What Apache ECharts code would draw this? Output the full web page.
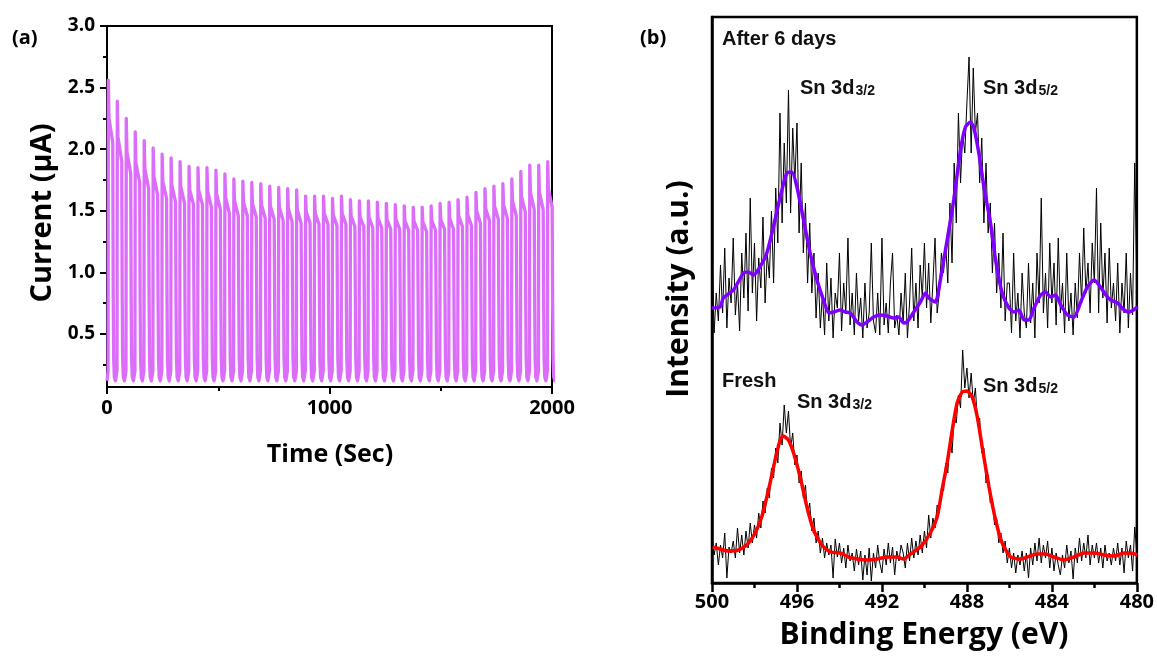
<!DOCTYPE html>
<html><head><meta charset="utf-8">
<script src="https://cdn.jsdelivr.net/npm/echarts@6/dist/echarts.min.js"></script>
<style>html,body{margin:0;padding:0;background:#fff}#c{width:1157px;height:657px}</style>
</head><body><div id="c"></div>
<script>
// ---------- Panel (a): pulsed photocurrent ----------
const timeTicks = [0, 1000, 2000];
const currentTicks = [0.5, 1.0, 1.5, 2.0, 2.5, 3.0];
const currentMinorTicks = [0.25, 0.75, 1.25, 1.75, 2.25, 2.75];
// peak current of each light-on pulse (µA)
const pulsePeaks = [2.56, 2.39, 2.25, 2.14, 2.07, 2.01, 1.96, 1.93, 1.90, 1.86,
  1.85, 1.85, 1.83, 1.80, 1.76, 1.74, 1.73, 1.72, 1.70, 1.69,
  1.68, 1.67, 1.62, 1.62, 1.62, 1.60, 1.62, 1.59, 1.58, 1.58,
  1.57, 1.56, 1.55, 1.54, 1.53, 1.53, 1.54, 1.56, 1.57, 1.59,
  1.61, 1.65, 1.68, 1.70, 1.72, 1.76, 1.82, 1.87, 1.87, 1.90];
// current shortly after the spike
const pulseMids = [2.25, 2.10, 1.98, 1.89, 1.84, 1.78, 1.74, 1.71, 1.70, 1.67,
  1.67, 1.66, 1.64, 1.61, 1.58, 1.57, 1.56, 1.55, 1.54, 1.53,
  1.52, 1.51, 1.49, 1.48, 1.48, 1.47, 1.48, 1.46, 1.45, 1.45,
  1.44, 1.43, 1.43, 1.42, 1.42, 1.41, 1.42, 1.43, 1.44, 1.46,
  1.47, 1.50, 1.52, 1.54, 1.55, 1.58, 1.62, 1.65, 1.65, 1.68];
// current at the end of the light-on period
const pulseShoulders = [2.05, 1.90, 1.80, 1.73, 1.68, 1.63, 1.60, 1.57, 1.56, 1.55,
  1.55, 1.53, 1.51, 1.48, 1.46, 1.46, 1.45, 1.44, 1.43, 1.42,
  1.41, 1.40, 1.40, 1.39, 1.39, 1.38, 1.39, 1.37, 1.37, 1.36,
  1.36, 1.35, 1.35, 1.34, 1.34, 1.33, 1.34, 1.35, 1.35, 1.37,
  1.38, 1.40, 1.42, 1.43, 1.44, 1.46, 1.49, 1.51, 1.51, 1.53];
// dark-current levels during light-off
const offLevels = [0.8, 0.3, 0.15, 0.12, 0.13, 0.2];

// ---------- Panel (b): XPS Sn 3d ----------
const energyTicks = [500, 496, 492, 488, 484, 480];
// raw spectra, 500.0 -> 480.0 eV in 0.1 eV steps
const agedRaw = [
 330,250,290,262,318,270,335,255,305,280,
 345,268,300,252,330,285,350,272,385,290,
 340,262,325,295,366,280,330,305,372,300,
 395,340,470,360,440,380,493,370,455,400,
 460,350,420,330,380,300,360,290,330,265,
 310,255,290,248,320,262,305,245,290,275,
 330,252,300,270,345,258,290,248,310,262,
 285,245,300,255,270,340,262,250,290,248,
 345,258,280,250,300,330,255,268,248,290,
 260,310,245,280,335,262,300,255,318,285,
 340,275,320,260,300,345,270,290,330,310,
 340,300,380,320,420,360,470,400,450,430,
 480,526,430,515,450,470,400,445,360,420,
 350,380,310,360,290,330,275,350,262,300,
 300,250,330,262,290,245,310,270,255,320,
 260,300,245,330,280,385,270,310,255,340,
 280,320,258,345,270,300,250,330,262,290,
 248,300,265,330,280,355,290,320,270,340,
 300,395,270,360,285,330,260,335,275,300,
 262,320,250,300,270,330,255,310,268,420,
 300];
const freshRaw = [
 45,28,40,18,38,25,50,5,36,30,
 42,25,55,30,48,28,52,35,60,40,
 58,45,70,55,82,70,95,85,115,105,
 135,120,160,138,178,150,172,135,150,118,
 128,100,112,85,98,68,80,52,65,40,
 52,30,45,25,40,28,38,5,44,26,
 40,20,35,15,38,22,30,12,34,18,
 32,3,28,8,35,2,30,15,38,20,
 10,34,18,40,20,36,8,32,22,38,
 30,15,40,22,45,25,42,28,48,30,
 52,35,68,45,65,55,78,70,95,92,
 120,110,145,130,165,160,188,175,233,195,
 215,185,210,180,195,160,165,130,135,100,
 108,80,85,58,65,40,50,30,42,20,
 35,15,30,10,28,18,32,12,30,5,
 35,18,40,22,45,20,38,25,42,15,
 35,12,30,18,8,28,15,38,20,32,
 4,35,20,45,22,40,25,48,18,38,
 25,40,20,35,15,38,22,30,18,35,
 22,40,18,35,10,42,25,38,12,56,
 30];
// smoothed fits [eV, intensity]
const agedFitE = [500.0,499.62,499.47,498.99,498.52,498.29,498.05,497.74,497.42,497.11,496.79,496.48,496.24,496.0,495.69,495.38,495.06,494.75,494.51,494.28,493.96,493.73,493.49,493.17,492.94,492.7,492.39,492.08,491.76,491.45,491.21,490.98,490.82,490.5,490.19,489.95,489.8,489.48,489.25,488.93,488.62,488.3,488.07,487.83,487.67,487.44,487.2,486.89,486.65,486.34,486.02,485.79,485.55,485.31,485.08,484.84,484.53,484.29,484.06,483.82,483.58,483.27,482.96,482.64,482.33,482.01,481.78,481.46,481.23,480.91,480.6,480.36,479.97];
const agedFitI = [275,276,285,293,310,311,308,316,330,356,386,410,411,396,363,330,303,283,270,271,273,271,270,261,258,261,266,268,267,265,266,260,261,271,281,290,285,281,303,343,383,433,456,461,455,430,396,360,323,290,275,271,273,263,263,275,288,291,286,288,278,268,266,281,296,303,298,288,283,280,273,271,276];
const freshFitE = [499.97,499.62,499.23,498.76,498.36,497.97,497.66,497.34,497.03,496.79,496.64,496.4,496.16,495.85,495.53,495.22,494.83,494.43,493.96,493.57,493.17,492.7,492.23,491.76,491.29,490.98,490.66,490.19,489.72,489.4,489.17,488.93,488.69,488.46,488.22,487.99,487.75,487.51,487.28,486.96,486.65,486.34,485.94,485.47,485.16,484.69,484.29,483.9,483.43,482.96,482.48,482.01,481.54,481.07,480.6,480.28,479.97];
const freshFitI = [36,34,32,33,38,50,66,93,123,143,147,143,130,106,76,53,38,31,30,26,24,23,24,26,26,24,29,36,50,66,93,120,153,180,191,192,186,166,136,96,63,40,26,24,26,29,29,26,23,26,30,30,28,27,30,30,28];

// ---------- build series data ----------
const period = 40.3, firstPeak = 6;
const offTimes = [22, 24, 27, 32, 37, 39];
const pulseData = [[0, 0.12], [firstPeak - 1.2, 0.2]];
pulsePeaks.forEach((p, k) => {
  const tp = firstPeak + period * k;
  pulseData.push([tp, p], [tp + 3, pulseMids[k]], [tp + 20, pulseShoulders[k]]);
  offTimes.forEach((dt, j) => pulseData.push([tp + dt, offLevels[j]]));
});
const energyGrid = agedRaw.map((_, i) => +(500 - 0.1 * i).toFixed(1));
const agedData = agedRaw.map((v, i) => [energyGrid[i], v]);
const freshData = freshRaw.map((v, i) => [energyGrid[i], v]);
const agedFit = agedFitE.map((e, i) => [e, agedFitI[i]]);
const freshFit = freshFitE.map((e, i) => [e, freshFitI[i]]);

const AX = 'Open Sans', TX = 'Liberation Sans';
const chart = echarts.init(document.getElementById('c'), null, {renderer: 'canvas'});
const sub = (m, s) => ({
  text: '{a|' + m + '}{b|' + s + '}',
  rich: {
    a: {fontFamily: TX, fontWeight: 'bold', fontSize: 20, lineHeight: 20, verticalAlign: 'top', fill: '#111'},
    b: {fontFamily: TX, fontWeight: 'bold', fontSize: 14, lineHeight: 14, padding: [10, 0, 0, 1], verticalAlign: 'bottom', fill: '#111'}
  }
});
chart.setOption({
  animation: false,
  backgroundColor: '#fff',
  grid: [
    {left: 107, top: 26, width: 445, height: 361, show: true, borderColor: '#000', borderWidth: 2, backgroundColor: 'transparent'},
    {left: 712, top: 17, width: 425, height: 566, show: true, borderColor: '#000', borderWidth: 2.5, backgroundColor: 'transparent'}
  ],
  xAxis: [
    {type: 'value', gridIndex: 0, min: timeTicks[0], max: timeTicks[2], interval: 1000,
     axisLine: {onZero: false, lineStyle: {color: '#000', width: 2}},
     axisTick: {length: 7, lineStyle: {color: '#000', width: 2}},
     minorTick: {show: true, splitNumber: 2, length: 4, lineStyle: {color: '#000', width: 2}},
     axisLabel: {margin: 11, fontFamily: AX, fontWeight: 'bold', fontSize: 20, color: '#000',
       formatter: v => String(v)},
     splitLine: {show: false}},
    {type: 'value', gridIndex: 1, min: 480, max: 500, interval: 4, inverse: true,
     axisLine: {onZero: false, lineStyle: {color: '#000', width: 2.5}},
     axisTick: {length: 9, lineStyle: {color: '#000', width: 2.5}},
     minorTick: {show: true, splitNumber: 2, length: 5, lineStyle: {color: '#000', width: 2.5}},
     axisLabel: {margin: 9, fontFamily: AX, fontWeight: 'bold', fontSize: 20, color: '#000',
       customValues: energyTicks, formatter: v => String(v)},
     splitLine: {show: false}}
  ],
  yAxis: [
    {type: 'value', gridIndex: 0, position: 'left', min: 0.07, max: 3.0,
     axisLine: {show: true, onZero: false, lineStyle: {color: '#000', width: 2}},
     axisTick: {show: true, length: 7, customValues: currentTicks, lineStyle: {color: '#000', width: 2}},
     axisLabel: {margin: 12, fontFamily: AX, fontWeight: 'bold', fontSize: 19, color: '#000',
       customValues: currentTicks, formatter: v => v.toFixed(1)},
     splitLine: {show: false}},
    {type: 'value', gridIndex: 0, position: 'left', offset: 0, min: 0.07, max: 3.0,
     axisLine: {show: false, onZero: false},
     axisTick: {show: true, length: 4, customValues: currentMinorTicks, lineStyle: {color: '#000', width: 2}},
     axisLabel: {show: false}, splitLine: {show: false}},
    {type: 'value', gridIndex: 1, position: 'left', min: 0, max: 566,
     axisLine: {show: true, onZero: false, lineStyle: {color: '#000', width: 2.5}},
     axisTick: {show: false}, axisLabel: {show: false}, splitLine: {show: false}}
  ],
  series: [
    {type: 'line', xAxisIndex: 0, yAxisIndex: 0, data: pulseData, showSymbol: false, silent: true,
     lineStyle: {color: '#DB6DFA', width: 3.3, join: 'round'}},
    {type: 'line', xAxisIndex: 1, yAxisIndex: 2, data: agedData, showSymbol: false, silent: true,
     lineStyle: {color: '#000', width: 1}},
    {type: 'line', xAxisIndex: 1, yAxisIndex: 2, data: freshData, showSymbol: false, silent: true,
     lineStyle: {color: '#000', width: 1}},
    {type: 'line', xAxisIndex: 1, yAxisIndex: 2, data: agedFit, showSymbol: false, silent: true, smooth: 0.2, z: 5,
     lineStyle: {color: '#7F00FF', width: 3.5}},
    {type: 'line', xAxisIndex: 1, yAxisIndex: 2, data: freshFit, showSymbol: false, silent: true, smooth: 0.2, z: 5,
     lineStyle: {color: '#FF0000', width: 3.5}}
  ],
  graphic: [
    {type: 'text', x: 12, y: 28, style: {text: '(a)', fontFamily: AX, fontWeight: 'bold', fontSize: 20, fill: '#000'}},
    {type: 'text', x: 43, y: 213, rotation: Math.PI / 2,
     style: {text: 'Current (μA)', align: 'center', verticalAlign: 'middle', fontFamily: AX, fontWeight: 'bold', fontSize: 29, fill: '#000'}},
    {type: 'text', x: 330, y: 455,
     style: {text: 'Time (Sec)', align: 'center', verticalAlign: 'middle', fontFamily: AX, fontWeight: 'bold', fontSize: 25, fill: '#000'}},
    {type: 'text', x: 640, y: 28, style: {text: '(b)', fontFamily: AX, fontWeight: 'bold', fontSize: 20, fill: '#000'}},
    {type: 'text', x: 679, y: 289, rotation: Math.PI / 2,
     style: {text: 'Intensity (a.u.)', align: 'center', verticalAlign: 'middle', fontFamily: AX, fontWeight: 'bold', fontSize: 30, fill: '#000'}},
    {type: 'text', x: 924, y: 620,
     style: {text: 'Binding Energy (eV)', align: 'center', verticalAlign: 'top', fontFamily: AX, fontWeight: 'bold', fontSize: 30, fill: '#000'}},
    {type: 'text', x: 722, y: 29, style: {text: 'After 6 days', fontFamily: TX, fontWeight: 'bold', fontSize: 20, fill: '#111', verticalAlign: 'top'}},
    {type: 'text', x: 800, y: 78, style: Object.assign(sub('Sn 3d', '3/2'), {verticalAlign: 'top'})},
    {type: 'text', x: 983, y: 78, style: Object.assign(sub('Sn 3d', '5/2'), {verticalAlign: 'top'})},
    {type: 'text', x: 722, y: 371, style: {text: 'Fresh', fontFamily: TX, fontWeight: 'bold', fontSize: 20, fill: '#111', verticalAlign: 'top'}},
    {type: 'text', x: 797, y: 392, style: Object.assign(sub('Sn 3d', '3/2'), {verticalAlign: 'top'})},
    {type: 'text', x: 983, y: 376, style: Object.assign(sub('Sn 3d', '5/2'), {verticalAlign: 'top'})}
  ]
});
</script></body></html>
